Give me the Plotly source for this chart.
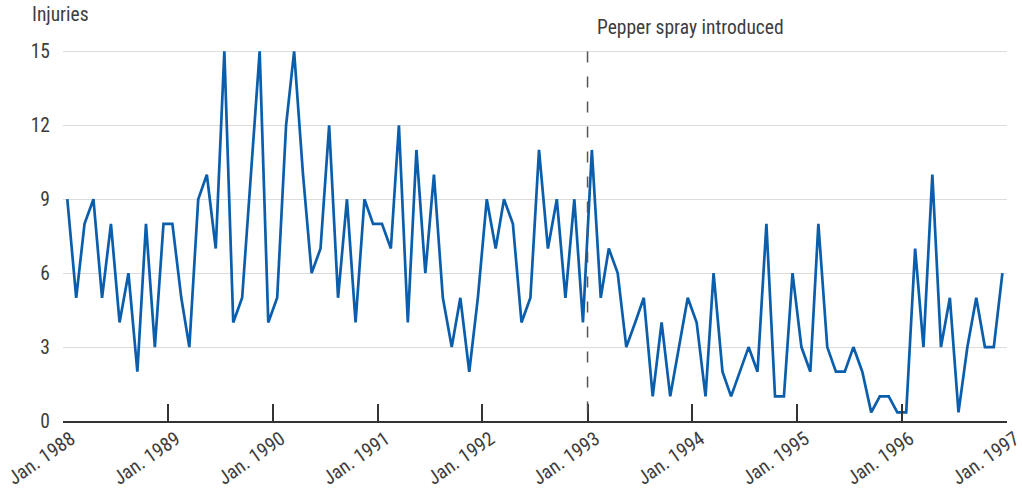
import plotly.graph_objects as go
import pandas as pd

# Monthly injuries, Jan 1988 - Dec 1996
inj_1988 = [9, 5, 8, 9, 5, 8, 4, 6, 2, 8, 3, 8]
inj_1989 = [8, 5, 3, 9, 10, 7, 15, 4, 5, 10, 15, 4]
inj_1990 = [5, 12, 15, 10, 6, 7, 12, 5, 9, 4, 9, 8]
inj_1991 = [8, 7, 12, 4, 11, 6, 10, 5, 3, 5, 2, 5]
inj_1992 = [9, 7, 9, 8, 4, 5, 11, 7, 9, 5, 9, 4]
inj_1993 = [11, 5, 7, 6, 3, 4, 5, 1, 4, 1, 3, 5]
inj_1994 = [4, 1, 6, 2, 1, 2, 3, 2, 8, 1, 1, 6]
inj_1995 = [3, 2, 8, 3, 2, 2, 3, 2, 0.35, 1, 1, 0.35]
inj_1996 = [0.35, 7, 3, 10, 3, 5, 0.35, 3, 5, 3, 3, 6]

values = inj_1988 + inj_1989 + inj_1990 + inj_1991 + inj_1992 + inj_1993 + inj_1994 + inj_1995 + inj_1996
months = pd.date_range("1988-01-01", "1996-12-01", freq="MS") + pd.Timedelta(days=15)

tick_years = [1988, 1989, 1990, 1991, 1992, 1993, 1994, 1995, 1996, 1997]
tick_vals = [f"{y}-01-01" for y in tick_years]
tick_text = [f"Jan. {y}" for y in tick_years]
y_ticks = [0, 3, 6, 9, 12, 15]

event_date = "1993-01-01"
event_label = "Pepper spray introduced"

FONT = "Liberation Sans Narrow, Roboto Condensed, Roboto, sans-serif"
FS = 19.5
TXT = "#3d3d3d"

fig = go.Figure()
fig.add_trace(go.Scatter(
    x=months, y=values, mode="lines",
    line=dict(color="#0a5eab", width=2.7),
    hoverinfo="x+y", showlegend=False,
))

fig.add_shape(type="line", xref="x", yref="y", x0=event_date, x1=event_date, y0=15, y1=0,
              line=dict(color="#555555", width=1.5, dash="11px,14px"), layer="above")

fig.add_annotation(x=event_date, y=1, xref="x", yref="paper", xanchor="left", yanchor="bottom",
                   xshift=7, yshift=3, text=event_label, showarrow=False,
                   font=dict(family=FONT, size=FS, color=TXT))
fig.add_annotation(x=0, y=1, xref="paper", yref="paper", xanchor="left", yanchor="bottom",
                   xshift=-33, yshift=16, text="Injuries", showarrow=False,
                   font=dict(family=FONT, size=FS, color=TXT))

fig.update_layout(
    width=1022, height=492,
    margin=dict(l=63, r=15, t=44, b=71, autoexpand=False),
    paper_bgcolor="white", plot_bgcolor="white",
    font=dict(family=FONT, size=FS, color=TXT),
    xaxis=dict(
        range=["1988-01-01", "1997-01-01"],
        tickvals=tick_vals, ticktext=tick_text, tickangle=-35,
        ticks="inside", ticklen=17, tickwidth=2, tickcolor="#333333",
        showline=True, linecolor="#333333", linewidth=2,
        showgrid=False, zeroline=False, automargin=False,
        ticklabeloverflow="allow", ticklabelshift=8, ticklabelstandoff=-3,
        tickfont=dict(family=FONT, size=FS, color=TXT),
    ),
    yaxis=dict(
        range=[0, 15.3], tickvals=y_ticks,
        showgrid=True, gridcolor="#dcdcdc", gridwidth=1.2,
        zeroline=False, showline=False, ticks="", automargin=False,
        ticklabelstandoff=12,
        tickfont=dict(family=FONT, size=FS, color=TXT),
    ),
)

# remove the default page margin so the 1022x492 figure fills the window exactly
fig.write_html("out.html",
               config={"displayModeBar": False},
               post_script="document.body.style.margin='0';document.body.style.overflow='hidden';")
